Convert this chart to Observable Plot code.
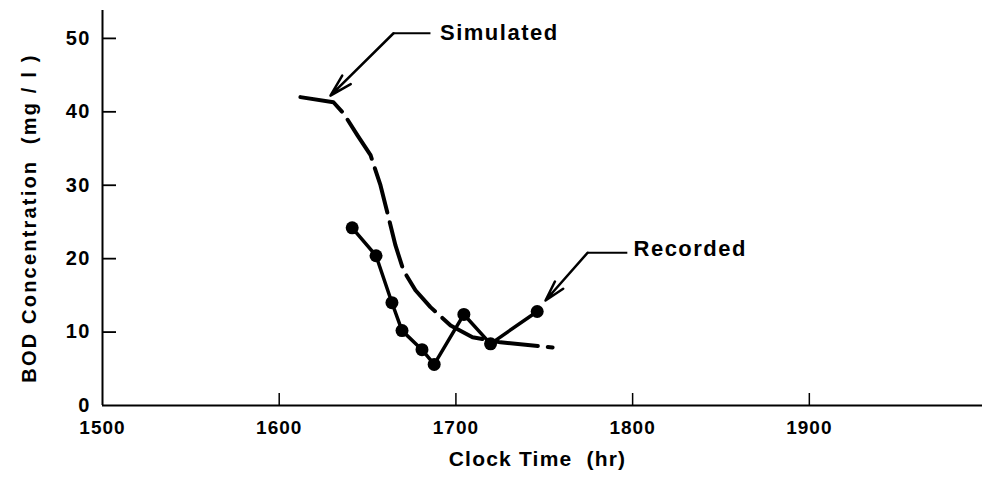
<!DOCTYPE html>
<html>
<head>
<meta charset="utf-8">
<script src="https://cdn.jsdelivr.net/npm/d3@7"></script>
<script src="https://cdn.jsdelivr.net/npm/@observablehq/plot@0.6"></script>
<style>
  html, body { margin: 0; padding: 0; background: #fff; }
  #chart svg { display: block; }
</style>
</head>
<body>
<div id="chart"></div>
<script>
// Simulated BOD concentration (dashed curve)
const simT = [1612, 1630.7, 1636.4, 1644.3, 1651.7, 1657.3, 1661.9, 1665.8, 1670.3, 1677.1, 1685.6, 1697, 1709.4, 1725.2, 1754.7];
const simV = [42.0, 41.3, 39.8, 36.8, 34.1, 30.0, 25.6, 21.8, 18.4, 15.7, 13.4, 10.9, 9.3, 8.6, 7.9];

// Recorded BOD concentration (points)
const recT = [1641.3, 1654.8, 1663.8, 1669.5, 1680.8, 1687.7, 1704.5, 1719.6, 1746];
const recV = [24.2, 20.4, 14.0, 10.2, 7.6, 5.6, 12.4, 8.4, 12.8];

// Axis ticks
const xTicks = [1500, 1600, 1700, 1800, 1900];
const yTicks = [0, 10, 20, 30, 40, 50];
const xTitle = "Clock Time  (hr)";
const yTitle = "BOD Concentration  (mg / l )";

// Callout annotations
const annoText = ["Simulated", "Recorded"];
const annoTextT = [1691, 1800.5];
const annoTextV = [50.8, 21.3];
const annoLineEndT = [1685.6, 1797];
const annoElbowT = [1664.7, 1774.5];
const annoElbowV = [50.7, 20.8];
const annoTipT = [1629, 1750.7];
const annoTipV = [42.2, 14.3];

const sim = simT.map((t, i) => ({t, v: simV[i]}));
const rec = recT.map((t, i) => ({t, v: recV[i]}));
const anno = annoText.map((s, i) => ({
  s, tx: annoTextT[i], ty: annoTextV[i], le: annoLineEndT[i],
  ex: annoElbowT[i], ey: annoElbowV[i], px: annoTipT[i], py: annoTipV[i]
}));

const font = "'Liberation Sans', Arial, Helvetica, sans-serif";

const chart = Plot.plot({
  width: 982,
  height: 483,
  marginLeft: 102,
  marginRight: 0,
  marginTop: 10,
  marginBottom: 78,
  style: {fontFamily: font, background: "#fff", color: "#000"},
  x: {domain: [1500, 1998]},
  y: {domain: [0, 53.8]},
  marks: [
    // axes lines
    Plot.ruleY([0], {stroke: "#000", strokeWidth: 2}),
    Plot.ruleX([1500], {stroke: "#000", strokeWidth: 2}),
    // inward ticks
    Plot.ruleX(xTicks.slice(1), {x: d => d, insetTop: 383, stroke: "#000", strokeWidth: 1.5}),
    Plot.ruleY(yTicks.slice(1), {y: d => d, insetRight: 866, stroke: "#000", strokeWidth: 1.8}),
    // tick labels
    Plot.axisX(xTicks, {tickSize: 0, tickPadding: 15, fontSize: 19, fontWeight: "bold", label: null, tickFormat: d => String(d)}),
    Plot.axisY(yTicks, {tickSize: 0, tickPadding: 12, fontSize: 20, fontWeight: "bold", label: null, tickFormat: d => String(d)}),
    // axis titles
    Plot.text([xTitle], {frameAnchor: "bottom", textAnchor: "middle", text: d => d, dx: -5, dy: 60, fontSize: 21, fontWeight: "bold"}),
    Plot.text([yTitle], {frameAnchor: "left", textAnchor: "middle", text: d => d, rotate: -90, dx: -73, dy: 10, fontSize: 20, fontWeight: "bold"}),
    // simulated dashed curve
    Plot.line(sim, {x: "t", y: "v", stroke: "#000", strokeWidth: 4, strokeDasharray: "46,10", curve: "linear"}),
    // recorded line + dots
    Plot.line(rec, {x: "t", y: "v", stroke: "#000", strokeWidth: 3.5}),
    Plot.dot(rec, {x: "t", y: "v", r: 6.5, fill: "#000"}),
    // callouts
    Plot.link(anno, {x1: "le", y1: "ey", x2: "ex", y2: "ey", stroke: "#000", strokeWidth: 2}),
    Plot.arrow(anno, {x1: "ex", y1: "ey", x2: "px", y2: "py", stroke: "#000", strokeWidth: 2.5, headAngle: 30, headLength: 14}),
    Plot.text(anno, {x: "tx", y: "ty", text: "s", textAnchor: "start", fontSize: 22, fontWeight: "bold"})
  ]
});

// letter spacing to mimic the wide lettering of the original
const xLabelSet = new Set(xTicks.map(String));
const yLabelSet = new Set(yTicks.map(String));
d3.select(chart).selectAll("text").each(function() {
  const t = this.textContent;
  let ls = null;
  if (annoText.includes(t)) ls = "1.5px";
  else if (t === yTitle) ls = "2.2px";
  else if (t === xTitle) ls = "1.2px";
  else if (xLabelSet.has(t)) ls = "1px";
  else if (yLabelSet.has(t)) ls = "1.2px";
  if (ls) this.style.letterSpacing = ls;
});
document.getElementById("chart").appendChild(chart);
</script>
</body>
</html>
